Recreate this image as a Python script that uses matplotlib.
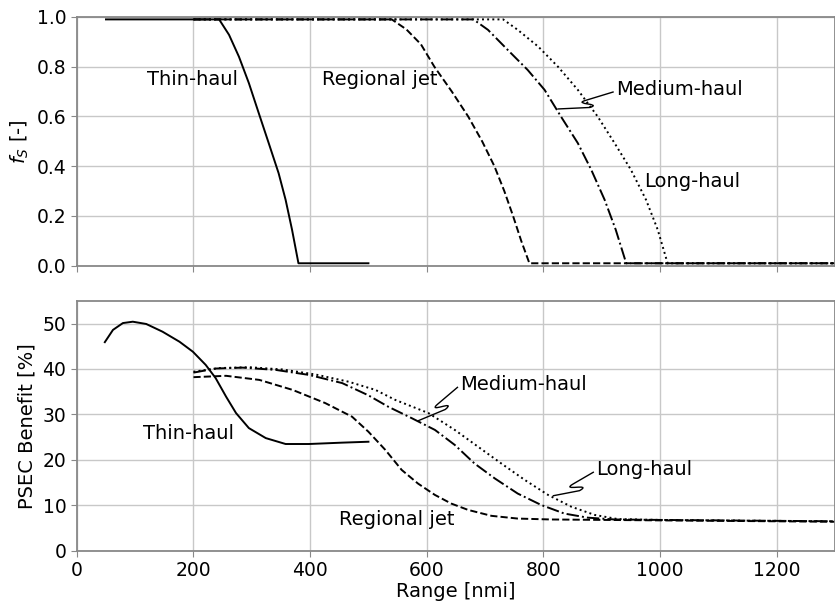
import numpy as np
import matplotlib.pyplot as plt
from matplotlib.path import Path
from matplotlib.patches import PathPatch
from matplotlib.transforms import IdentityTransform

# --- top panel: f_S vs range (nmi) ---
thin_r = [50, 244, 261, 278, 295, 312, 329, 346, 358, 369, 380, 500]
thin_fs = [0.99, 0.99, 0.928, 0.84, 0.734, 0.613, 0.493, 0.372, 0.265, 0.145, 0.01, 0.01]

reg_r = [200, 540, 565, 590, 613, 643, 671, 695, 716, 733, 748, 762, 776, 1300]
reg_fs = [0.99, 0.99, 0.95, 0.89, 0.8, 0.7, 0.6, 0.5, 0.4, 0.3, 0.2, 0.1, 0.01, 0.01]

med_r = [200, 680, 705, 739, 773, 802, 830, 859, 882, 905, 924, 942, 1300]
med_fs = [0.99, 0.99, 0.948, 0.867, 0.787, 0.707, 0.6, 0.493, 0.386, 0.265, 0.145, 0.01, 0.01]

long_r = [200, 731, 756, 791, 825, 859, 893, 922, 950, 976, 996, 1013, 1300]
long_fs = [0.99, 0.99, 0.948, 0.881, 0.8, 0.707, 0.6, 0.493, 0.386, 0.265, 0.145, 0.01, 0.01]

# --- bottom panel: PSEC benefit (%) vs range (nmi) ---
thin_r2 = [48, 62, 79, 96, 119, 147, 176, 199, 221, 238, 256, 273, 295, 324, 358, 398, 455, 500]
thin_psec = [45.9, 48.6, 50.1, 50.4, 49.9, 48.2, 46.0, 43.8, 40.9, 38.0, 33.9, 30.3, 27.0, 24.8,
             23.5, 23.5, 23.8, 24.0]

reg_r2 = [200, 256, 313, 370, 426, 472, 500, 529, 557, 585, 614, 642, 671, 711, 756, 813, 1000, 1300]
reg_psec = [38.2, 38.5, 37.6, 35.4, 32.5, 29.5, 26.2, 22.2, 17.8, 14.8, 12.3, 10.4, 9.0, 7.7, 7.1,
            6.9, 6.7, 6.4]

med_r2 = [200, 238, 284, 341, 398, 455, 500, 534, 574, 614, 648, 682, 717, 756, 796, 836, 876, 922,
          1000, 1300]
med_psec = [39.2, 40.1, 40.3, 39.8, 38.7, 36.9, 34.2, 31.7, 29.2, 26.6, 23.3, 19.2, 15.9, 12.6, 10.1,
            8.2, 7.3, 6.9, 6.8, 6.5]

long_r2 = [200, 244, 295, 352, 409, 466, 512, 546, 603, 648, 688, 728, 768, 808, 848, 888, 927,
           1000, 1300]
long_psec = [39.4, 40.2, 40.4, 39.9, 38.8, 37.2, 35.4, 33.2, 30.3, 26.6, 22.9, 19.2, 15.6, 12.3, 9.7,
             7.9, 7.0, 6.8, 6.5]

plt.rcParams['font.size'] = 14

fig = plt.figure(figsize=(8.35, 6.04), dpi=100)
ax1 = fig.add_axes([0.092, 0.56, 0.908, 0.412])
ax2 = fig.add_axes([0.092, 0.088, 0.908, 0.414])

lw = 1.4
ax1.plot(thin_r, thin_fs, 'k-', lw=lw)
ax1.plot(reg_r, reg_fs, 'k--', lw=lw)
ax1.plot(med_r, med_fs, 'k-.', lw=lw)
ax1.plot(long_r, long_fs, 'k:', lw=lw)

ax2.plot(thin_r2, thin_psec, 'k-', lw=lw)
ax2.plot(reg_r2, reg_psec, 'k--', lw=lw)
ax2.plot(med_r2, med_psec, 'k-.', lw=lw)
ax2.plot(long_r2, long_psec, 'k:', lw=lw)

for ax in (ax1, ax2):
    ax.set_xlim(0, 1300)
    ax.set_xticks([0, 200, 400, 600, 800, 1000, 1200])
    ax.grid(True, color='#c8c8c8', lw=1.0)
    ax.set_axisbelow(True)
    for s in ax.spines.values():
        s.set_color('#888888')
        s.set_linewidth(1.3)
    ax.tick_params(color='#888888', length=4, labelsize=13.5)

ax1.set_ylim(0, 1)
ax1.set_yticks([0, 0.2, 0.4, 0.6, 0.8, 1.0])
ax1.set_xticklabels([])
ax1.set_ylabel('$f_S$ [-]')

ax2.set_ylim(0, 55)
ax2.set_yticks([0, 10, 20, 30, 40, 50])
ax2.set_ylabel('PSEC Benefit [%]')
ax2.set_xlabel('Range [nmi]', labelpad=1)


def squiggle_label(ax, text, xy, xytext, off=9, k=16):
    # label with a connector line that has a small S-kink half way
    ax.text(xytext[0], xytext[1], text, va='center', ha='left')
    s = ax.transData.transform(xytext) + np.array([-2, -2])
    t = ax.transData.transform(xy)
    u = (t - s) / np.hypot(*(t - s))
    n = np.array([u[1], -u[0]])
    if n[1] > 0:
        n = -n
    a = s + 0.5 * (t - s)
    b = a + n * off - u * 2
    verts = [s, a, a + u * k, b - u * k, b, t]
    codes = [Path.MOVETO, Path.LINETO, Path.CURVE4, Path.CURVE4, Path.CURVE4, Path.LINETO]
    fig.add_artist(PathPatch(Path(verts, codes), fc='none', ec='k', lw=1.0,
                             transform=IdentityTransform()))


ax1.text(121, 0.75, 'Thin-haul', va='center')
ax1.text(420, 0.75, 'Regional jet', va='center')
squiggle_label(ax1, 'Medium-haul', (824, 0.63), (924, 0.707), off=8, k=14)
ax1.text(973, 0.34, 'Long-haul', va='center')

ax2.text(114, 25.8, 'Thin-haul', va='center')
ax2.text(450, 6.8, 'Regional jet', va='center')
squiggle_label(ax2, 'Medium-haul', (585, 28.6), (657, 36.5))
squiggle_label(ax2, 'Long-haul', (816, 12.1), (890, 17.8))

fig.savefig('out.png', dpi=100)
